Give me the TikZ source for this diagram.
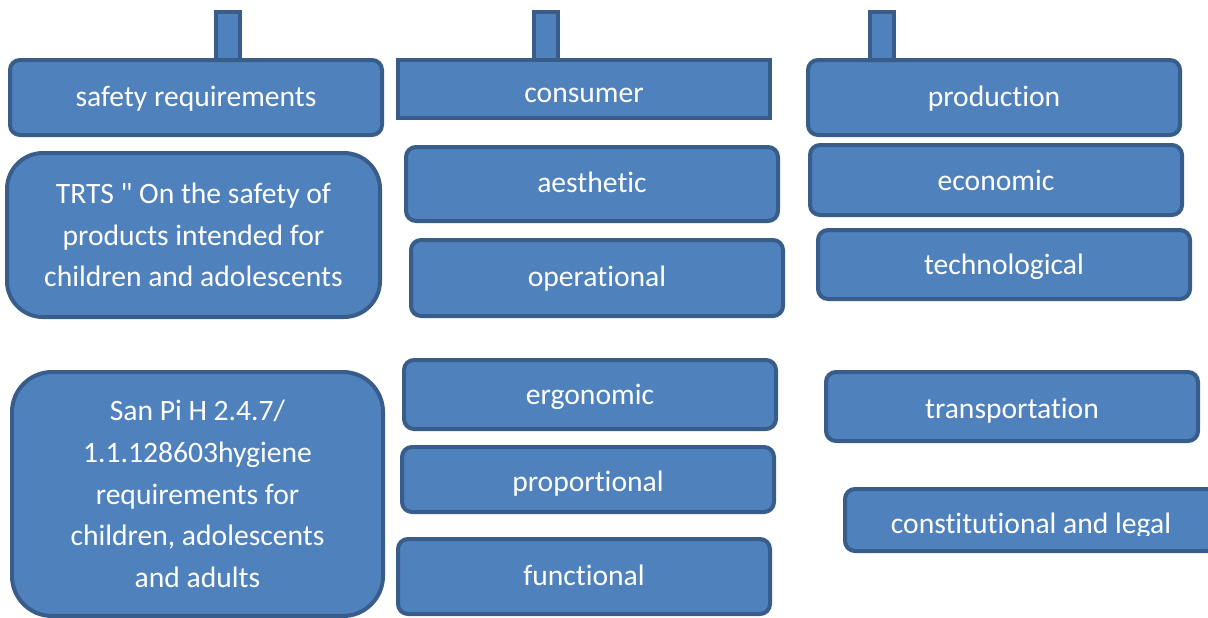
\documentclass[tikz,border=0pt]{standalone}
\usepackage{fontspec}
\setmainfont{Carlito}[Ligatures={NoCommon,TeXOff}]
\definecolor{fond}{HTML}{4F81BD}
\definecolor{bord}{HTML}{385D8A}
\tikzset{
	boite/.style={draw=bord, fill=fond, line width=2pt, text=white, inner sep=0pt,
		rounded corners=5pt, align=center, font=\fontsize{14.8}{20.8}\selectfont,
		minimum width=186pt},
	ligne/.style={boite, text height=#1, text depth=3pt},
	ligne/.default=13pt,
	grande/.style={boite, rounded corners=18pt},
	tige/.style={draw=bord, fill=fond, line width=2pt, inner sep=0pt,
		minimum width=12pt, minimum height=26pt}
}
\begin{document}
\begin{tikzpicture}[x=0.5pt, y=-0.5pt]
		\useasboundingbox (0,0) rectangle (1208,617);
		%Tiges au-dessus des titres
		\node[tige] (T1) at (228,38) {};
		\node[tige] (T2) at (546,38) {};
		\node[tige] (T3) at (882,38) {};
		%Titres des colonnes
		\node[ligne=12pt, minimum height=37.5pt] (safety) at (196,97.5) {safety requirements};
		\node[ligne=16.5pt, sharp corners, minimum height=29pt] (consumer) at (584,89) {consumer};
		\node[ligne=12pt, minimum height=37.5pt] (production) at (994,97.5) {production};
		%Colonne de gauche
		\node[grande, minimum width=186.5pt, minimum height=82pt] (trts) at (193.5,235) {TRTS " On the safety of\\products intended for\\children and adolescents};
		\node[grande, minimum width=185.5pt, minimum height=122pt, rounded corners=20pt] (sanpi) at (197.5,494) {San Pi H 2.4.7/\\1.1.128603hygiene\\requirements for\\children, adolescents\\and adults};
		%Colonne du milieu
		\node[ligne=11.5pt, minimum height=37pt] (aesthetic) at (592,184) {aesthetic};
		\node[ligne=11.5pt, minimum height=38pt] (operational) at (597,278) {operational};
		\node[ligne, minimum height=34.5pt] (ergonomic) at (590,394.5) {ergonomic};
		\node[ligne=15pt, minimum height=32.5pt] (proportional) at (588,479.5) {proportional};
		\node[ligne=12pt, minimum height=37.5pt] (functional) at (584,576.5) {functional};
		%Colonne de droite
		\node[ligne, minimum height=35pt] (economic) at (996,180) {economic};
		\node[ligne=13pt, minimum height=34.5pt] (technological) at (1004,264.5) {technological};
		\node[ligne=14.5pt, minimum height=34.5pt] (transportation) at (1012,406.5) {transportation};
		\node[boite, minimum height=31pt] (constitutional) at (1031,520) {};
		\begin{scope}
			\clip (840,480) rectangle (1208,535);
			\node[text=white, inner sep=0pt, text height=16pt, text depth=3pt,
				font=\fontsize{14.8}{20.8}\selectfont] (constlabel) at (constitutional.center) {constitutional and legal};
		\end{scope}
	\end{tikzpicture}
\end{document}
